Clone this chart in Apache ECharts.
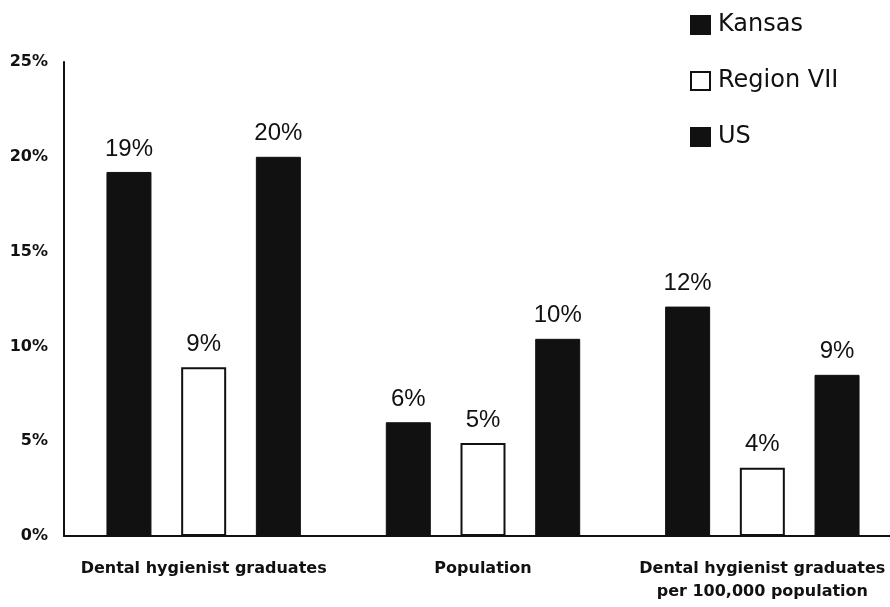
<!DOCTYPE html>
<html>
<head>
<meta charset="utf-8">
<title>Dental hygienist graduates: Kansas, Region VII and US</title>
<script src="https://cdn.jsdelivr.net/npm/echarts@6/dist/echarts.min.js"></script>
<style>
  html, body { margin: 0; padding: 0; background: #fff; }
  #chart { width: 890px; height: 607px; }
</style>
</head>
<body>
<div id="chart"></div>
<script>
// Categories along the x axis
const categories = [
  "Dental hygienist graduates",
  "Population",
  "Dental hygienist graduates per 100,000 population"
];

// Percent values for each area (labels show them rounded to whole percent)
const kansas   = [19.2, 6.0, 12.1];
const region7  = [8.9, 4.9, 3.6];
const us       = [20.0, 10.4, 8.5];

// Y axis range and step (percent)
const yMin = 0;
const yMax = 25;
const yStep = 5;

const FONT = "'DejaVu Sans', sans-serif";
const VALUE_FONT = "'Liberation Sans', Arial, sans-serif";
const INK = "#111";

const pctLabel = {
  show: true,
  position: "top",
  distance: 11,
  color: INK,
  fontFamily: VALUE_FONT,
  fontSize: 24,
  formatter: p => Math.round(p.value) + "%"
};

const chart = echarts.init(document.getElementById("chart"), null, { renderer: "canvas" });

chart.setOption({
  animation: false,
  backgroundColor: "#fff",
  // the plot runs slightly past the right edge of the page, so the width is set directly
  grid: { left: 64, width: 838, top: 62, height: 474, containLabel: false, outerBoundsMode: "none" },
  legend: {
    orient: "vertical",
    left: 690,
    top: 13,
    padding: 0,
    itemWidth: 19,
    itemHeight: 18,
    itemGap: 32,
    icon: "rect",
    textStyle: { fontFamily: FONT, fontSize: 24, color: INK, lineHeight: 24, padding: [0, 0, 0, 3] },
    data: ["Kansas", "Region VII", "US"]
  },
  xAxis: {
    type: "category",
    data: categories,
    axisLine: { show: true, lineStyle: { color: INK, width: 2 } },
    axisTick: { show: false },
    axisLabel: {
      interval: 0,
      margin: 21,
      color: INK,
      fontFamily: FONT,
      fontWeight: "bold",
      fontSize: 16,
      lineHeight: 23,
      formatter: v => v.replace(" per ", "\nper ")
    }
  },
  yAxis: {
    type: "value",
    min: yMin,
    max: yMax,
    interval: yStep,
    splitLine: { show: false },
    axisLine: { show: true, lineStyle: { color: INK, width: 2 } },
    axisTick: { show: false },
    axisLabel: {
      margin: 16,
      color: INK,
      fontFamily: FONT,
      fontWeight: "bold",
      fontSize: 16,
      formatter: v => v + "%"
    }
  },
  series: [
    {
      name: "Kansas",
      type: "bar",
      data: kansas,
      barWidth: 45,
      barGap: "66%",
      itemStyle: { color: INK, borderColor: INK, borderWidth: 1 },
      label: pctLabel
    },
    {
      name: "Region VII",
      type: "bar",
      data: region7,
      barWidth: 45,
      barGap: "66%",
      itemStyle: { color: "#fff", borderColor: INK, borderWidth: 2 },
      label: pctLabel
    },
    {
      name: "US",
      type: "bar",
      data: us,
      barWidth: 45,
      barGap: "66%",
      itemStyle: { color: INK, borderColor: INK, borderWidth: 1 },
      label: pctLabel
    }
  ]
});
</script>
</body>
</html>
